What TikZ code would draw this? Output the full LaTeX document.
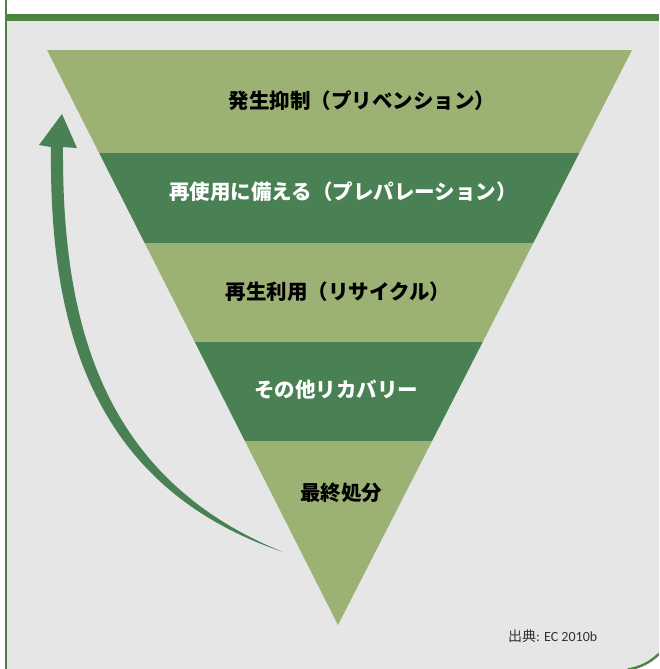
\documentclass[tikz,border=0pt]{standalone}
\usepackage{fontspec}
\setmainfont{Carlito}
\newfontfamily\cjk{Noto Sans CJK JP}
\definecolor{bgray}{HTML}{E6E6E6}
\definecolor{bordergreen}{HTML}{4A853F}
\definecolor{lightband}{HTML}{9BB274}
\definecolor{darkband}{HTML}{4A8154}
\definecolor{arrowgreen}{HTML}{4A8154}
\begin{document}
\begin{tikzpicture}[x=1pt,y=-1pt,
  bandlabel/.style={font=\cjk\bfseries\fontsize{20.5}{24}\selectfont, inner sep=0pt},
  darklabel/.style={bandlabel, text=black},
  lightlabel/.style={bandlabel, text=white}]
\useasboundingbox (0,0) rectangle (659,669);
\fill[white] (0,0) rectangle (659,669);
\begin{scope}
\clip (0,0) rectangle (659,669);
% gray panel with rounded bottom-right corner
\fill[bgray] (7,21) -- (659,21) -- (659,653.8) arc[start angle=44.9,end angle=79,radius=55] -- (7,669) -- cycle;
\draw[bordergreen, line width=2.4] (659,653.8) arc[start angle=44.9,end angle=82,radius=55];
\end{scope}
% borders
\fill[bordergreen] (5,0) rectangle (7,669);
\fill[bordergreen] (5,14) rectangle (659,21);
% triangle bands
\begin{scope}
\clip (47,50) -- (632,50) -- (338,625) -- cycle;
\fill[lightband] (0,50) rectangle (659,153);
\fill[darkband] (0,153) rectangle (659,243);
\fill[lightband] (0,243) rectangle (659,342);
\fill[darkband] (0,342) rectangle (659,441);
\fill[lightband] (0,441) rectangle (659,630);
\end{scope}
\node[darklabel] (l1) at (362,101) {発生抑制（プリベンション）};
\node[lightlabel] (l2) at (343,192) {再使用に備える（プレパレーション）};
\node[darklabel] (l3) at (338,292) {再生利用（リサイクル）};
\node[lightlabel] (l4) at (336,390) {その他リカバリー};
\node[darklabel] (l5) at (341,493) {最終処分};
% curved tapered arrow
\fill[arrowgreen] (283,552) .. controls (100,478) and (62,320) .. (63,147)
  -- (77,148) -- (62,114) -- (39,145) -- (51,147)
  .. controls (49,320) and (88,486) .. (283,552) -- cycle;
% source
\node[anchor=west, inner sep=0pt, text=black!80, font=\fontsize{14}{16}\selectfont] (src) at (508,636) {{\cjk 出典}: EC 2010b};
\end{tikzpicture}
\end{document}
